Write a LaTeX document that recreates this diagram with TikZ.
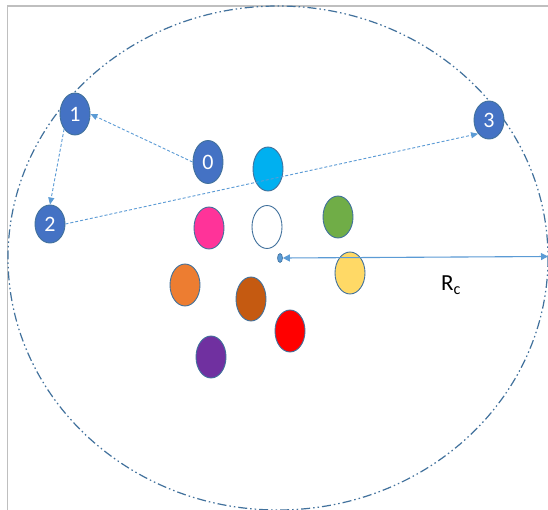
\documentclass[tikz,border=0pt]{standalone}
\usepackage{fontspec}
\setmainfont{Carlito}
\usetikzlibrary{arrows.meta,shapes.geometric}
\definecolor{nblue}{HTML}{4472C4}
\definecolor{nedge}{HTML}{41719C}
\definecolor{lblue}{HTML}{5B9BD5}
\definecolor{framegray}{HTML}{BFBFBF}
\definecolor{ccyan}{HTML}{00B0F0}
\definecolor{cpink}{HTML}{FF3399}
\definecolor{cgreen}{HTML}{70AD47}
\definecolor{cyellow}{HTML}{FFD966}
\definecolor{corange}{HTML}{ED7D31}
\definecolor{cbrown}{HTML}{C55A11}
\definecolor{cred}{HTML}{FF0000}
\definecolor{cpurple}{HTML}{7030A0}
\tikzset{
  dot/.style={ellipse, draw=nedge, line width=0.9pt, minimum width=30pt, minimum height=42pt, inner sep=0pt},
  numdot/.style={dot, fill=nblue, text=white, font=\fontsize{22}{22}\selectfont},
  link/.style={draw=lblue, line width=0.9pt, dash pattern=on 3pt off 2pt, -{Triangle[length=7pt,width=6pt]}},
}
\begin{document}
\begin{tikzpicture}[x=1pt,y=-1pt]
\useasboundingbox (0,0) rectangle (548,510);
\fill[white] (0,0) rectangle (548,510);
% frame
\draw[framegray, line width=1.5pt] (7.5,510) -- (7.5,6) -- (548,6);
% big circle
\draw[nedge, line width=1.2pt, dash pattern=on 9pt off 3pt on 1.5pt off 3pt on 1.5pt off 3pt] (278,258) ellipse [x radius=270, y radius=252];
% nodes
\node[numdot, minimum height=42pt] (n1) at (75,114) {1};
\node[numdot, minimum height=38pt] (n2) at (50,224) {2};
\node[numdot, minimum height=38pt] (n3) at (489,120) {3};
\node[numdot, minimum height=43pt] (n0) at (208,162) {0};
\node[dot, fill=ccyan, minimum height=44pt] (cyan) at (268,169) {};
\node[dot, fill=cpink] (pink) at (209,228) {};
\node[dot, fill=white, minimum height=43pt] (white) at (267,227) {};
\node[dot, fill=cgreen] (green) at (338,217) {};
\node[dot, fill=cyellow] (yellow) at (350,273) {};
\node[dot, fill=corange] (orange) at (185,285) {};
\node[dot, fill=cbrown, minimum height=44pt] (brown) at (251,299) {};
\node[dot, fill=cred] (red) at (290,331) {};
\node[dot, fill=cpurple] (purple) at (211,357) {};
\node[ellipse, draw=nedge, fill=lblue, line width=0.6pt, minimum width=5pt, minimum height=9pt, inner sep=0pt] (c) at (280,258) {};
\coordinate (rc) at (548,256.5);
% connectors
\draw[link] (n0.west) -- (n1.east);
\draw[link] (n1.south west) -- (n2.north);
\draw[link] (n2.east) -- (n3.south west);
\draw[draw=lblue, line width=1.1pt, {Triangle[length=7pt,width=7pt]}-{Triangle[length=7pt,width=7pt]}] (c.east) -- (rc);
\node[font=\fontsize{23}{23}\selectfont] (lbl) at (451,285) {R\textsubscript{c}};
\end{tikzpicture}
\end{document}
